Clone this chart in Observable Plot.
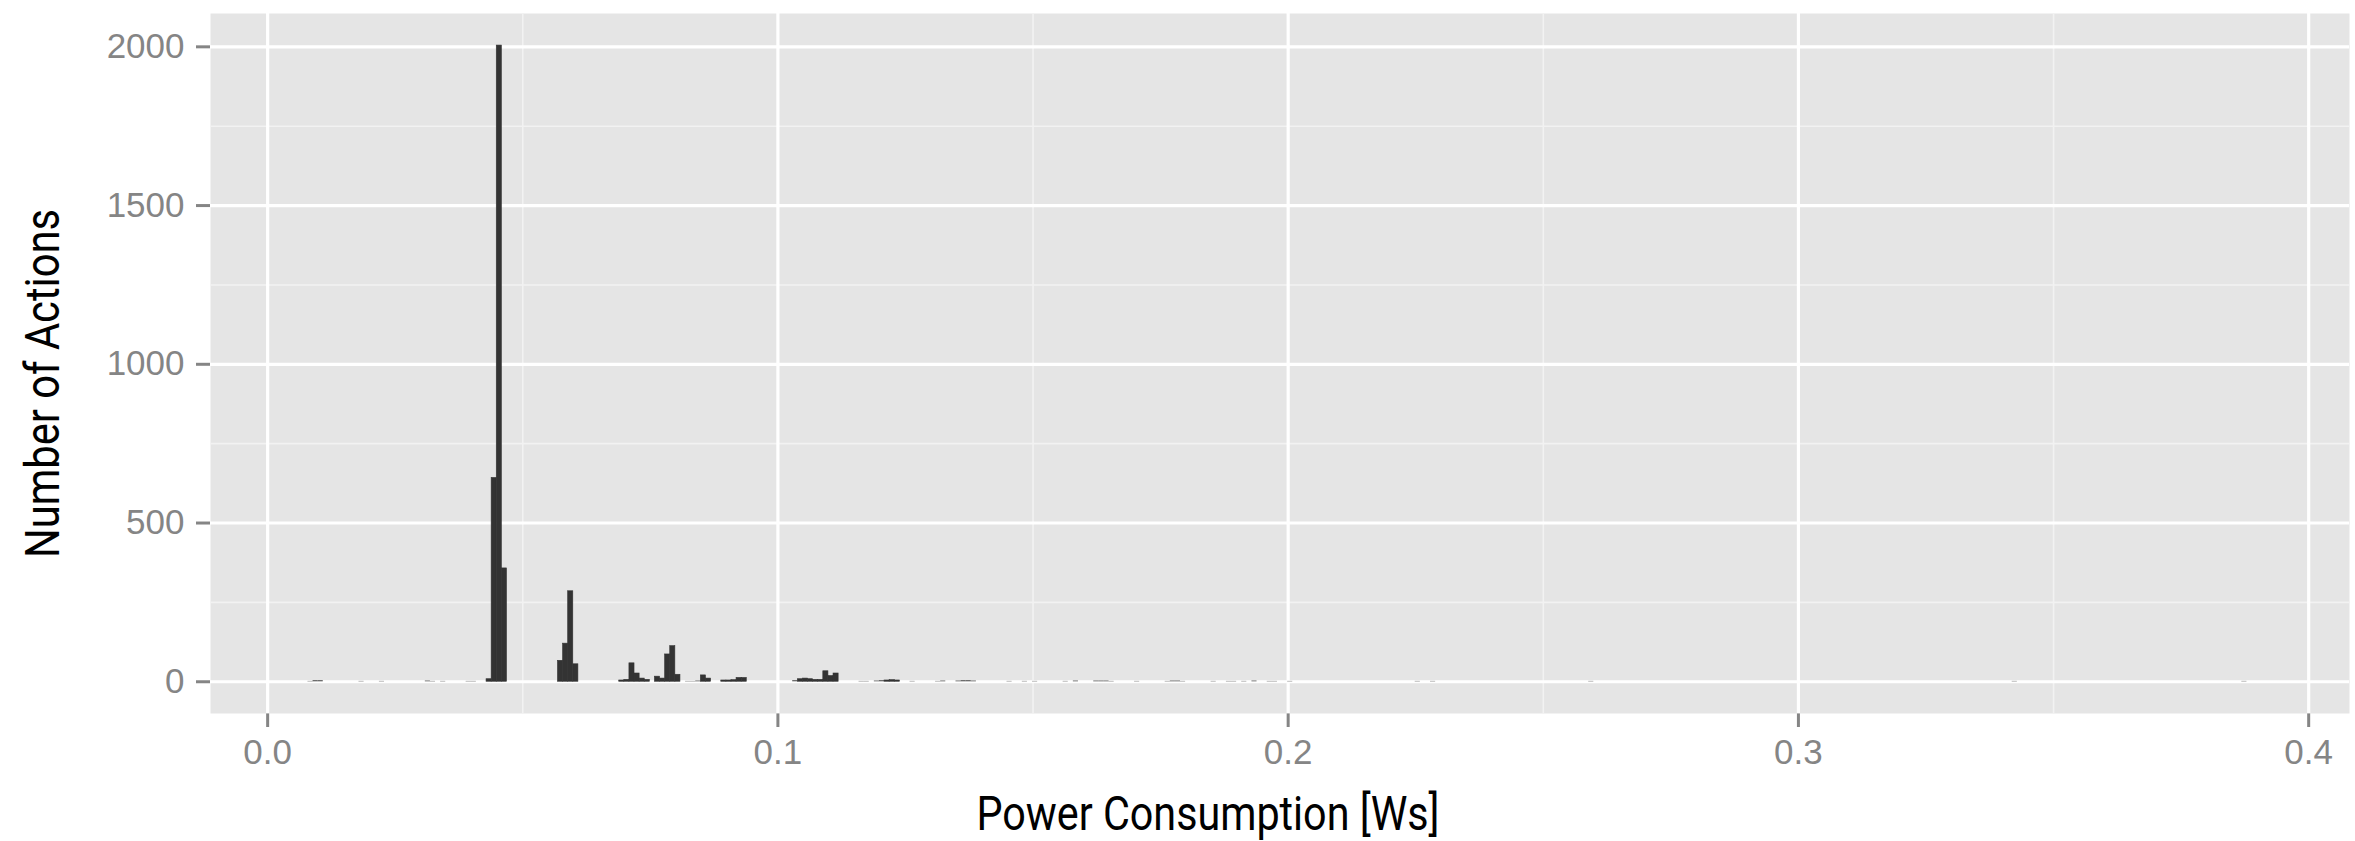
<!DOCTYPE html>
<html>
<head>
<meta charset="utf-8">
<script src="https://cdn.jsdelivr.net/npm/d3@7"></script>
<script src="https://cdn.jsdelivr.net/npm/@observablehq/plot@0.6"></script>
<style>
  html, body { margin: 0; padding: 0; background: #ffffff; }
  #chart svg { display: block; }
</style>
</head>
<body>
<div id="chart"></div>
<script>
// ---- data (histogram of power consumption per action, bin width 0.001 Ws) ----
const binWidth = 0.001;
const binStart = [
  0.0079, 0.0089, 0.0099, 0.0179, 0.0219, 0.0309, 0.0319, 0.0339, 0.0389, 0.0399,
  0.0429, 0.0439, 0.0449, 0.0459,
  0.0569, 0.0579, 0.0589, 0.0599,
  0.0689, 0.0699, 0.0709, 0.0719, 0.0729, 0.0739,
  0.0759, 0.0769, 0.0779, 0.0789, 0.0799,
  0.0819, 0.0829, 0.0839, 0.0849, 0.0859,
  0.0889, 0.0899, 0.0909, 0.0919, 0.0929,
  0.1029, 0.1039, 0.1049, 0.1059, 0.1069, 0.1079, 0.1089, 0.1099, 0.1109,
  0.1159, 0.1169, 0.1189, 0.1199, 0.1209, 0.1219, 0.1229, 0.1259,
  0.1309, 0.1319, 0.1349, 0.1359, 0.1369, 0.1379,
  0.1449, 0.1479, 0.1499, 0.1559, 0.1579,
  0.1619, 0.1629, 0.1639, 0.1649, 0.1699,
  0.1759, 0.1769, 0.1779, 0.1789, 0.1849, 0.1879, 0.1889, 0.1909, 0.1929, 0.1959, 0.1969, 0.1999,
  0.2249, 0.2279, 0.2589, 0.3419, 0.3869
];
const counts = [
  1, 3, 3, 1, 1, 2, 1, 1, 1, 1,
  8, 642, 2004, 357,
  66, 120, 285, 55,
  4, 6, 58, 26, 10, 6,
  16, 10, 86, 112, 22,
  1, 1, 2, 20, 10,
  4, 4, 5, 12, 12,
  3, 8, 10, 8, 6, 6, 33, 18, 26,
  1, 1, 2, 3, 4, 5, 4, 1,
  1, 2, 2, 3, 3, 2,
  1, 1, 1, 1, 2,
  2, 2, 2, 1, 1,
  1, 2, 2, 1, 1, 1, 1, 1, 2, 1, 1, 1,
  1, 1, 1, 1, 1
];
const xMajor = [0, 0.1, 0.2, 0.3, 0.4];
const xMinor = [0.05, 0.15, 0.25, 0.35];
const yMajor = [0, 500, 1000, 1500, 2000];
const yMinor = [250, 750, 1250, 1750];
const xTitle = "Power Consumption [Ws]";
const yTitle = "Number of Actions";

const bins = binStart.map((x0, i) => ({x0, x1: x0 + binWidth, count: counts[i]}));

const svg = Plot.plot({
  width: 2355,
  height: 841,
  marginLeft: 210,
  marginRight: 6,
  marginTop: 13,
  marginBottom: 128,
  style: {background: "#ffffff", color: "#858585", fontFamily: "'Liberation Sans', Arial, sans-serif", fontSize: "35px"},
  x: {domain: [-0.0112, 0.408], ticks: xMajor, tickFormat: d => d.toFixed(1), tickSize: 14, tickPadding: 12, label: null},
  y: {domain: [-100, 2105], ticks: yMajor, tickFormat: d => String(d), tickSize: 14, tickPadding: 12, label: null},
  marks: [
    Plot.frame({fill: "#E5E5E5", stroke: "none"}),
    Plot.ruleX(xMinor, {stroke: "#F2F2F2", strokeWidth: 1.6}),
    Plot.ruleY(yMinor, {stroke: "#F2F2F2", strokeWidth: 1.6}),
    Plot.ruleX(xMajor, {stroke: "#ffffff", strokeWidth: 3.2}),
    Plot.ruleY(yMajor, {stroke: "#ffffff", strokeWidth: 3.2}),
    Plot.rectY(bins, {x1: "x0", x2: "x1", y: "count", fill: "#333333", stroke: d => d.count > 3 ? "#333333" : "none", strokeWidth: 0.6}),
    Plot.text([xTitle], {text: d => d, frameAnchor: "bottom", dx: -72, dy: 116, lineAnchor: "bottom", textAnchor: "middle", fill: "#000000", fontSize: 48, fontFamily: "Roboto"}),
    Plot.text([yTitle], {text: d => d, frameAnchor: "left", dx: -152, dy: 20, rotate: -90, lineAnchor: "bottom", textAnchor: "middle", fill: "#000000", fontSize: 48, fontFamily: "Roboto"})
  ]
});

// condensed look of the axis titles
d3.select(svg).selectAll("text").each(function() {
  const t = this.textContent;
  if (t === xTitle) { this.setAttribute("textLength", 463); this.setAttribute("lengthAdjust", "spacingAndGlyphs"); }
  if (t === yTitle) { this.setAttribute("textLength", 349); this.setAttribute("lengthAdjust", "spacingAndGlyphs"); }
});
// thicker tick marks like ggplot2
d3.select(svg).selectAll('[aria-label="x-axis tick"], [aria-label="y-axis tick"]').attr("stroke-width", 3);

document.getElementById("chart").appendChild(svg);
</script>
</body>
</html>
